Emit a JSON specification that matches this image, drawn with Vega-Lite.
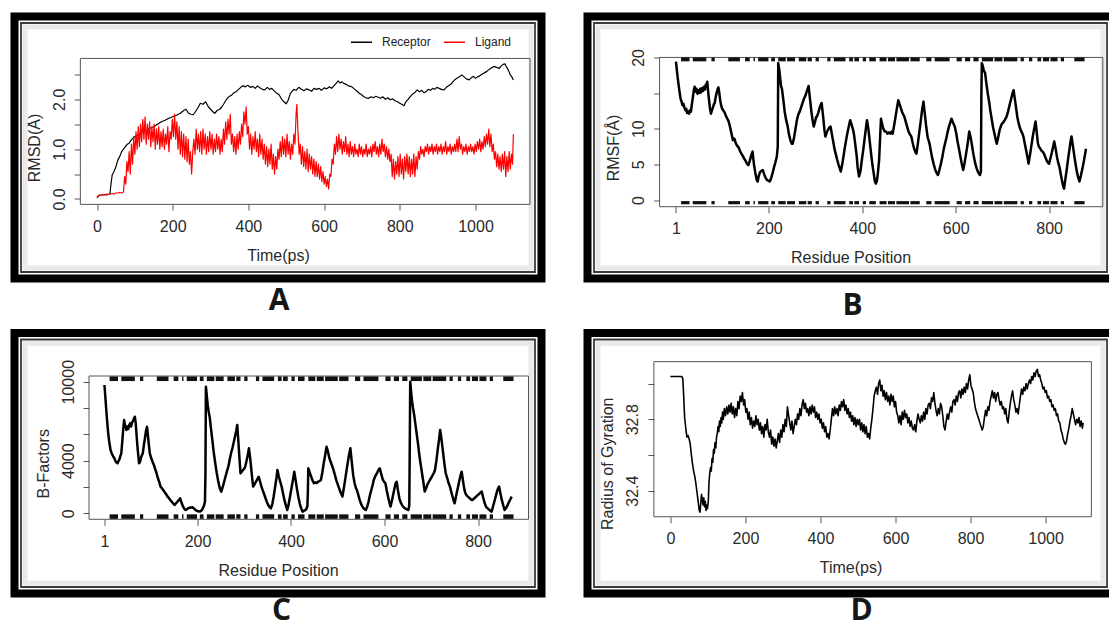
{
"$schema": "https://vega.github.io/schema/vega-lite/v6.json",
"background": "white",
"padding": {"left": 10.5, "top": 12.5, "right": -8.5, "bottom": -6},
"bounds": "flush",
"columns": 2,
"spacing": {"row": 54.5, "column": 46},
"datasets": {
"rmsd": [
{"x":0,"y":0.03,"s":"Receptor"},{"x":5,"y":0.07,"s":"Receptor"},{"x":10,"y":0.08,"s":"Receptor"},{"x":15,"y":0.08,"s":"Receptor"},{"x":20,"y":0.09,"s":"Receptor"},{"x":25,"y":0.08,"s":"Receptor"},{"x":30,"y":0.09,"s":"Receptor"},{"x":34,"y":0.1,"s":"Receptor"},{"x":37,"y":0.3,"s":"Receptor"},{"x":40,"y":0.48,"s":"Receptor"},{"x":45,"y":0.55,"s":"Receptor"},{"x":50,"y":0.65,"s":"Receptor"},{"x":55,"y":0.78,"s":"Receptor"},{"x":60,"y":0.85,"s":"Receptor"},{"x":65,"y":0.95,"s":"Receptor"},{"x":70,"y":1.0,"s":"Receptor"},{"x":75,"y":1.05,"s":"Receptor"},{"x":80,"y":1.1,"s":"Receptor"},{"x":85,"y":1.12,"s":"Receptor"},{"x":90,"y":1.18,"s":"Receptor"},{"x":95,"y":1.22,"s":"Receptor"},{"x":100,"y":1.25,"s":"Receptor"},{"x":110,"y":1.3,"s":"Receptor"},{"x":120,"y":1.35,"s":"Receptor"},{"x":130,"y":1.38,"s":"Receptor"},{"x":140,"y":1.42,"s":"Receptor"},{"x":150,"y":1.45,"s":"Receptor"},{"x":160,"y":1.5,"s":"Receptor"},{"x":170,"y":1.55,"s":"Receptor"},{"x":180,"y":1.58,"s":"Receptor"},{"x":190,"y":1.62,"s":"Receptor"},{"x":200,"y":1.65,"s":"Receptor"},{"x":210,"y":1.68,"s":"Receptor"},{"x":220,"y":1.72,"s":"Receptor"},{"x":230,"y":1.78,"s":"Receptor"},{"x":235,"y":1.8,"s":"Receptor"},{"x":242,"y":1.72,"s":"Receptor"},{"x":248,"y":1.7,"s":"Receptor"},{"x":254,"y":1.69,"s":"Receptor"},{"x":260,"y":1.75,"s":"Receptor"},{"x":266,"y":1.82,"s":"Receptor"},{"x":273,"y":1.92,"s":"Receptor"},{"x":280,"y":1.9,"s":"Receptor"},{"x":287,"y":1.95,"s":"Receptor"},{"x":294,"y":1.85,"s":"Receptor"},{"x":300,"y":1.8,"s":"Receptor"},{"x":306,"y":1.75,"s":"Receptor"},{"x":311,"y":1.72,"s":"Receptor"},{"x":318,"y":1.78,"s":"Receptor"},{"x":324,"y":1.8,"s":"Receptor"},{"x":330,"y":1.85,"s":"Receptor"},{"x":336,"y":1.92,"s":"Receptor"},{"x":342,"y":2.0,"s":"Receptor"},{"x":348,"y":2.05,"s":"Receptor"},{"x":355,"y":2.08,"s":"Receptor"},{"x":360,"y":2.12,"s":"Receptor"},{"x":367,"y":2.15,"s":"Receptor"},{"x":374,"y":2.2,"s":"Receptor"},{"x":380,"y":2.24,"s":"Receptor"},{"x":386,"y":2.27,"s":"Receptor"},{"x":392,"y":2.25,"s":"Receptor"},{"x":398,"y":2.28,"s":"Receptor"},{"x":405,"y":2.24,"s":"Receptor"},{"x":412,"y":2.26,"s":"Receptor"},{"x":418,"y":2.22,"s":"Receptor"},{"x":424,"y":2.27,"s":"Receptor"},{"x":430,"y":2.23,"s":"Receptor"},{"x":437,"y":2.2,"s":"Receptor"},{"x":443,"y":2.19,"s":"Receptor"},{"x":450,"y":2.24,"s":"Receptor"},{"x":456,"y":2.2,"s":"Receptor"},{"x":462,"y":2.22,"s":"Receptor"},{"x":468,"y":2.17,"s":"Receptor"},{"x":475,"y":2.12,"s":"Receptor"},{"x":481,"y":2.09,"s":"Receptor"},{"x":488,"y":2.0,"s":"Receptor"},{"x":494,"y":1.95,"s":"Receptor"},{"x":500,"y":1.91,"s":"Receptor"},{"x":505,"y":1.98,"s":"Receptor"},{"x":510,"y":2.1,"s":"Receptor"},{"x":514,"y":2.15,"s":"Receptor"},{"x":520,"y":2.2,"s":"Receptor"},{"x":526,"y":2.18,"s":"Receptor"},{"x":533,"y":2.24,"s":"Receptor"},{"x":540,"y":2.2,"s":"Receptor"},{"x":547,"y":2.17,"s":"Receptor"},{"x":553,"y":2.21,"s":"Receptor"},{"x":560,"y":2.19,"s":"Receptor"},{"x":567,"y":2.16,"s":"Receptor"},{"x":573,"y":2.22,"s":"Receptor"},{"x":580,"y":2.2,"s":"Receptor"},{"x":587,"y":2.22,"s":"Receptor"},{"x":593,"y":2.18,"s":"Receptor"},{"x":600,"y":2.23,"s":"Receptor"},{"x":607,"y":2.21,"s":"Receptor"},{"x":614,"y":2.25,"s":"Receptor"},{"x":620,"y":2.22,"s":"Receptor"},{"x":627,"y":2.28,"s":"Receptor"},{"x":633,"y":2.33,"s":"Receptor"},{"x":637,"y":2.37,"s":"Receptor"},{"x":642,"y":2.33,"s":"Receptor"},{"x":647,"y":2.35,"s":"Receptor"},{"x":652,"y":2.32,"s":"Receptor"},{"x":658,"y":2.3,"s":"Receptor"},{"x":664,"y":2.27,"s":"Receptor"},{"x":670,"y":2.26,"s":"Receptor"},{"x":675,"y":2.24,"s":"Receptor"},{"x":681,"y":2.2,"s":"Receptor"},{"x":687,"y":2.16,"s":"Receptor"},{"x":693,"y":2.12,"s":"Receptor"},{"x":699,"y":2.09,"s":"Receptor"},{"x":705,"y":2.05,"s":"Receptor"},{"x":711,"y":2.03,"s":"Receptor"},{"x":718,"y":2.02,"s":"Receptor"},{"x":724,"y":2.05,"s":"Receptor"},{"x":730,"y":2.03,"s":"Receptor"},{"x":737,"y":2.06,"s":"Receptor"},{"x":743,"y":2.04,"s":"Receptor"},{"x":749,"y":2.02,"s":"Receptor"},{"x":755,"y":2.05,"s":"Receptor"},{"x":762,"y":2.0,"s":"Receptor"},{"x":768,"y":2.03,"s":"Receptor"},{"x":775,"y":1.99,"s":"Receptor"},{"x":781,"y":2.01,"s":"Receptor"},{"x":787,"y":1.97,"s":"Receptor"},{"x":794,"y":1.95,"s":"Receptor"},{"x":800,"y":1.92,"s":"Receptor"},{"x":805,"y":1.9,"s":"Receptor"},{"x":811,"y":1.87,"s":"Receptor"},{"x":816,"y":1.95,"s":"Receptor"},{"x":822,"y":2.0,"s":"Receptor"},{"x":827,"y":2.05,"s":"Receptor"},{"x":833,"y":2.1,"s":"Receptor"},{"x":839,"y":2.13,"s":"Receptor"},{"x":846,"y":2.19,"s":"Receptor"},{"x":852,"y":2.15,"s":"Receptor"},{"x":858,"y":2.18,"s":"Receptor"},{"x":864,"y":2.13,"s":"Receptor"},{"x":869,"y":2.15,"s":"Receptor"},{"x":875,"y":2.2,"s":"Receptor"},{"x":881,"y":2.18,"s":"Receptor"},{"x":887,"y":2.22,"s":"Receptor"},{"x":892,"y":2.2,"s":"Receptor"},{"x":898,"y":2.24,"s":"Receptor"},{"x":904,"y":2.22,"s":"Receptor"},{"x":910,"y":2.2,"s":"Receptor"},{"x":917,"y":2.19,"s":"Receptor"},{"x":923,"y":2.24,"s":"Receptor"},{"x":929,"y":2.27,"s":"Receptor"},{"x":935,"y":2.3,"s":"Receptor"},{"x":940,"y":2.35,"s":"Receptor"},{"x":945,"y":2.39,"s":"Receptor"},{"x":951,"y":2.42,"s":"Receptor"},{"x":957,"y":2.45,"s":"Receptor"},{"x":964,"y":2.49,"s":"Receptor"},{"x":970,"y":2.45,"s":"Receptor"},{"x":976,"y":2.41,"s":"Receptor"},{"x":983,"y":2.39,"s":"Receptor"},{"x":989,"y":2.43,"s":"Receptor"},{"x":995,"y":2.46,"s":"Receptor"},{"x":1000,"y":2.42,"s":"Receptor"},{"x":1005,"y":2.45,"s":"Receptor"},{"x":1011,"y":2.47,"s":"Receptor"},{"x":1017,"y":2.5,"s":"Receptor"},{"x":1023,"y":2.53,"s":"Receptor"},{"x":1030,"y":2.56,"s":"Receptor"},{"x":1036,"y":2.6,"s":"Receptor"},{"x":1042,"y":2.63,"s":"Receptor"},{"x":1049,"y":2.66,"s":"Receptor"},{"x":1056,"y":2.64,"s":"Receptor"},{"x":1063,"y":2.62,"s":"Receptor"},{"x":1068,"y":2.67,"s":"Receptor"},{"x":1073,"y":2.7,"s":"Receptor"},{"x":1078,"y":2.71,"s":"Receptor"},{"x":1082,"y":2.65,"s":"Receptor"},{"x":1087,"y":2.58,"s":"Receptor"},{"x":1092,"y":2.49,"s":"Receptor"},{"x":1096,"y":2.45,"s":"Receptor"},{"x":1100,"y":2.39,"s":"Receptor"},
{"x":0,"y":0.02,"s":"Ligand"},{"x":5,"y":0.08,"s":"Ligand"},{"x":10,"y":0.07,"s":"Ligand"},{"x":15,"y":0.09,"s":"Ligand"},{"x":20,"y":0.08,"s":"Ligand"},{"x":25,"y":0.1,"s":"Ligand"},{"x":30,"y":0.09,"s":"Ligand"},{"x":35,"y":0.1,"s":"Ligand"},{"x":40,"y":0.11,"s":"Ligand"},{"x":45,"y":0.1,"s":"Ligand"},{"x":50,"y":0.12,"s":"Ligand"},{"x":55,"y":0.12,"s":"Ligand"},{"x":60,"y":0.13,"s":"Ligand"},{"x":65,"y":0.12,"s":"Ligand"},{"x":70,"y":0.14,"s":"Ligand"},{"x":73,"y":0.45,"s":"Ligand"},{"x":76,"y":0.3,"s":"Ligand"},{"x":79,"y":0.75,"s":"Ligand"},{"x":82,"y":0.55,"s":"Ligand"},{"x":85,"y":0.95,"s":"Ligand"},{"x":88,"y":0.5,"s":"Ligand"},{"x":91,"y":1.1,"s":"Ligand"},{"x":94,"y":0.7,"s":"Ligand"},{"x":97,"y":1.25,"s":"Ligand"},{"x":100,"y":0.9,"s":"Ligand"},{"x":103,"y":1.35,"s":"Ligand"},{"x":106,"y":1.0,"s":"Ligand"},{"x":109,"y":1.45,"s":"Ligand"},{"x":112,"y":1.05,"s":"Ligand"},{"x":115,"y":1.5,"s":"Ligand"},{"x":118,"y":1.15,"s":"Ligand"},{"x":121,"y":1.6,"s":"Ligand"},{"x":124,"y":1.2,"s":"Ligand"},{"x":127,"y":1.65,"s":"Ligand"},{"x":130,"y":1.1,"s":"Ligand"},{"x":133,"y":1.5,"s":"Ligand"},{"x":136,"y":1.2,"s":"Ligand"},{"x":139,"y":1.55,"s":"Ligand"},{"x":142,"y":1.05,"s":"Ligand"},{"x":145,"y":1.45,"s":"Ligand"},{"x":148,"y":1.15,"s":"Ligand"},{"x":151,"y":1.5,"s":"Ligand"},{"x":154,"y":1.0,"s":"Ligand"},{"x":157,"y":1.4,"s":"Ligand"},{"x":160,"y":1.1,"s":"Ligand"},{"x":163,"y":1.45,"s":"Ligand"},{"x":166,"y":1.0,"s":"Ligand"},{"x":169,"y":1.35,"s":"Ligand"},{"x":172,"y":1.05,"s":"Ligand"},{"x":175,"y":1.4,"s":"Ligand"},{"x":178,"y":1.0,"s":"Ligand"},{"x":181,"y":1.3,"s":"Ligand"},{"x":184,"y":1.1,"s":"Ligand"},{"x":187,"y":1.45,"s":"Ligand"},{"x":190,"y":0.95,"s":"Ligand"},{"x":193,"y":1.35,"s":"Ligand"},{"x":196,"y":1.2,"s":"Ligand"},{"x":199,"y":1.6,"s":"Ligand"},{"x":202,"y":1.25,"s":"Ligand"},{"x":205,"y":1.7,"s":"Ligand"},{"x":208,"y":1.2,"s":"Ligand"},{"x":211,"y":1.55,"s":"Ligand"},{"x":214,"y":1.0,"s":"Ligand"},{"x":217,"y":1.45,"s":"Ligand"},{"x":220,"y":0.9,"s":"Ligand"},{"x":223,"y":1.35,"s":"Ligand"},{"x":226,"y":0.85,"s":"Ligand"},{"x":229,"y":1.3,"s":"Ligand"},{"x":232,"y":0.8,"s":"Ligand"},{"x":235,"y":1.25,"s":"Ligand"},{"x":238,"y":0.75,"s":"Ligand"},{"x":241,"y":1.2,"s":"Ligand"},{"x":244,"y":0.7,"s":"Ligand"},{"x":247,"y":0.95,"s":"Ligand"},{"x":250,"y":0.5,"s":"Ligand"},{"x":253,"y":0.95,"s":"Ligand"},{"x":256,"y":1.2,"s":"Ligand"},{"x":259,"y":0.9,"s":"Ligand"},{"x":262,"y":1.4,"s":"Ligand"},{"x":265,"y":1.0,"s":"Ligand"},{"x":268,"y":1.3,"s":"Ligand"},{"x":271,"y":0.95,"s":"Ligand"},{"x":274,"y":1.35,"s":"Ligand"},{"x":277,"y":0.9,"s":"Ligand"},{"x":280,"y":1.4,"s":"Ligand"},{"x":283,"y":1.0,"s":"Ligand"},{"x":286,"y":1.3,"s":"Ligand"},{"x":289,"y":0.9,"s":"Ligand"},{"x":292,"y":1.25,"s":"Ligand"},{"x":295,"y":0.95,"s":"Ligand"},{"x":298,"y":1.35,"s":"Ligand"},{"x":301,"y":1.0,"s":"Ligand"},{"x":304,"y":1.3,"s":"Ligand"},{"x":307,"y":0.9,"s":"Ligand"},{"x":310,"y":1.2,"s":"Ligand"},{"x":313,"y":0.95,"s":"Ligand"},{"x":316,"y":1.3,"s":"Ligand"},{"x":319,"y":1.0,"s":"Ligand"},{"x":322,"y":1.25,"s":"Ligand"},{"x":325,"y":0.9,"s":"Ligand"},{"x":328,"y":1.2,"s":"Ligand"},{"x":331,"y":0.95,"s":"Ligand"},{"x":334,"y":1.4,"s":"Ligand"},{"x":337,"y":1.1,"s":"Ligand"},{"x":340,"y":1.55,"s":"Ligand"},{"x":343,"y":1.2,"s":"Ligand"},{"x":346,"y":1.6,"s":"Ligand"},{"x":349,"y":1.3,"s":"Ligand"},{"x":352,"y":1.7,"s":"Ligand"},{"x":355,"y":1.1,"s":"Ligand"},{"x":358,"y":1.3,"s":"Ligand"},{"x":361,"y":0.95,"s":"Ligand"},{"x":364,"y":1.25,"s":"Ligand"},{"x":367,"y":0.9,"s":"Ligand"},{"x":370,"y":1.3,"s":"Ligand"},{"x":373,"y":1.0,"s":"Ligand"},{"x":376,"y":1.35,"s":"Ligand"},{"x":379,"y":1.1,"s":"Ligand"},{"x":382,"y":1.5,"s":"Ligand"},{"x":385,"y":1.25,"s":"Ligand"},{"x":388,"y":1.75,"s":"Ligand"},{"x":391,"y":1.5,"s":"Ligand"},{"x":394,"y":1.85,"s":"Ligand"},{"x":397,"y":1.3,"s":"Ligand"},{"x":400,"y":1.45,"s":"Ligand"},{"x":403,"y":1.0,"s":"Ligand"},{"x":406,"y":1.3,"s":"Ligand"},{"x":409,"y":0.9,"s":"Ligand"},{"x":412,"y":1.25,"s":"Ligand"},{"x":415,"y":1.0,"s":"Ligand"},{"x":418,"y":1.35,"s":"Ligand"},{"x":421,"y":0.95,"s":"Ligand"},{"x":424,"y":1.2,"s":"Ligand"},{"x":427,"y":0.85,"s":"Ligand"},{"x":430,"y":1.3,"s":"Ligand"},{"x":433,"y":0.9,"s":"Ligand"},{"x":436,"y":1.2,"s":"Ligand"},{"x":439,"y":0.8,"s":"Ligand"},{"x":442,"y":1.1,"s":"Ligand"},{"x":445,"y":0.7,"s":"Ligand"},{"x":448,"y":1.05,"s":"Ligand"},{"x":451,"y":0.65,"s":"Ligand"},{"x":454,"y":1.0,"s":"Ligand"},{"x":457,"y":0.7,"s":"Ligand"},{"x":460,"y":1.1,"s":"Ligand"},{"x":463,"y":0.6,"s":"Ligand"},{"x":466,"y":0.9,"s":"Ligand"},{"x":469,"y":0.5,"s":"Ligand"},{"x":472,"y":0.85,"s":"Ligand"},{"x":475,"y":0.6,"s":"Ligand"},{"x":478,"y":1.0,"s":"Ligand"},{"x":481,"y":0.8,"s":"Ligand"},{"x":484,"y":1.15,"s":"Ligand"},{"x":487,"y":0.85,"s":"Ligand"},{"x":490,"y":1.25,"s":"Ligand"},{"x":493,"y":0.9,"s":"Ligand"},{"x":496,"y":1.2,"s":"Ligand"},{"x":499,"y":0.85,"s":"Ligand"},{"x":502,"y":1.3,"s":"Ligand"},{"x":505,"y":0.9,"s":"Ligand"},{"x":508,"y":1.15,"s":"Ligand"},{"x":511,"y":0.8,"s":"Ligand"},{"x":514,"y":1.1,"s":"Ligand"},{"x":517,"y":0.9,"s":"Ligand"},{"x":520,"y":1.3,"s":"Ligand"},{"x":523,"y":1.1,"s":"Ligand"},{"x":526,"y":1.7,"s":"Ligand"},{"x":528,"y":1.9,"s":"Ligand"},{"x":531,"y":1.35,"s":"Ligand"},{"x":534,"y":0.9,"s":"Ligand"},{"x":537,"y":1.1,"s":"Ligand"},{"x":540,"y":0.7,"s":"Ligand"},{"x":543,"y":1.05,"s":"Ligand"},{"x":546,"y":0.65,"s":"Ligand"},{"x":549,"y":0.95,"s":"Ligand"},{"x":552,"y":0.6,"s":"Ligand"},{"x":555,"y":1.0,"s":"Ligand"},{"x":558,"y":0.55,"s":"Ligand"},{"x":561,"y":0.9,"s":"Ligand"},{"x":564,"y":0.6,"s":"Ligand"},{"x":567,"y":0.85,"s":"Ligand"},{"x":570,"y":0.5,"s":"Ligand"},{"x":573,"y":0.8,"s":"Ligand"},{"x":576,"y":0.45,"s":"Ligand"},{"x":579,"y":0.75,"s":"Ligand"},{"x":582,"y":0.45,"s":"Ligand"},{"x":585,"y":0.7,"s":"Ligand"},{"x":588,"y":0.4,"s":"Ligand"},{"x":591,"y":0.65,"s":"Ligand"},{"x":594,"y":0.35,"s":"Ligand"},{"x":597,"y":0.55,"s":"Ligand"},{"x":600,"y":0.3,"s":"Ligand"},{"x":603,"y":0.45,"s":"Ligand"},{"x":606,"y":0.25,"s":"Ligand"},{"x":609,"y":0.4,"s":"Ligand"},{"x":612,"y":0.2,"s":"Ligand"},{"x":615,"y":0.5,"s":"Ligand"},{"x":618,"y":0.45,"s":"Ligand"},{"x":621,"y":0.8,"s":"Ligand"},{"x":624,"y":0.7,"s":"Ligand"},{"x":627,"y":1.1,"s":"Ligand"},{"x":630,"y":0.9,"s":"Ligand"},{"x":633,"y":1.25,"s":"Ligand"},{"x":636,"y":0.95,"s":"Ligand"},{"x":639,"y":1.3,"s":"Ligand"},{"x":642,"y":1.0,"s":"Ligand"},{"x":645,"y":1.2,"s":"Ligand"},{"x":648,"y":0.9,"s":"Ligand"},{"x":651,"y":1.15,"s":"Ligand"},{"x":654,"y":0.95,"s":"Ligand"},{"x":657,"y":1.25,"s":"Ligand"},{"x":660,"y":0.9,"s":"Ligand"},{"x":663,"y":1.1,"s":"Ligand"},{"x":666,"y":0.85,"s":"Ligand"},{"x":669,"y":1.15,"s":"Ligand"},{"x":672,"y":0.9,"s":"Ligand"},{"x":675,"y":1.05,"s":"Ligand"},{"x":678,"y":0.85,"s":"Ligand"},{"x":681,"y":1.1,"s":"Ligand"},{"x":684,"y":0.9,"s":"Ligand"},{"x":687,"y":1.0,"s":"Ligand"},{"x":690,"y":0.85,"s":"Ligand"},{"x":693,"y":1.1,"s":"Ligand"},{"x":696,"y":0.9,"s":"Ligand"},{"x":699,"y":1.05,"s":"Ligand"},{"x":702,"y":0.85,"s":"Ligand"},{"x":705,"y":1.0,"s":"Ligand"},{"x":708,"y":0.9,"s":"Ligand"},{"x":711,"y":1.1,"s":"Ligand"},{"x":714,"y":0.85,"s":"Ligand"},{"x":717,"y":1.0,"s":"Ligand"},{"x":720,"y":0.9,"s":"Ligand"},{"x":723,"y":1.05,"s":"Ligand"},{"x":726,"y":0.85,"s":"Ligand"},{"x":729,"y":1.1,"s":"Ligand"},{"x":732,"y":0.95,"s":"Ligand"},{"x":735,"y":1.15,"s":"Ligand"},{"x":738,"y":0.9,"s":"Ligand"},{"x":741,"y":1.05,"s":"Ligand"},{"x":744,"y":0.85,"s":"Ligand"},{"x":747,"y":1.1,"s":"Ligand"},{"x":750,"y":0.9,"s":"Ligand"},{"x":753,"y":1.2,"s":"Ligand"},{"x":756,"y":0.95,"s":"Ligand"},{"x":759,"y":1.1,"s":"Ligand"},{"x":762,"y":0.85,"s":"Ligand"},{"x":765,"y":1.05,"s":"Ligand"},{"x":768,"y":0.8,"s":"Ligand"},{"x":771,"y":1.0,"s":"Ligand"},{"x":774,"y":0.75,"s":"Ligand"},{"x":777,"y":0.9,"s":"Ligand"},{"x":780,"y":0.45,"s":"Ligand"},{"x":783,"y":0.8,"s":"Ligand"},{"x":786,"y":0.4,"s":"Ligand"},{"x":789,"y":0.75,"s":"Ligand"},{"x":792,"y":0.5,"s":"Ligand"},{"x":795,"y":0.85,"s":"Ligand"},{"x":798,"y":0.45,"s":"Ligand"},{"x":801,"y":0.9,"s":"Ligand"},{"x":804,"y":0.5,"s":"Ligand"},{"x":807,"y":0.8,"s":"Ligand"},{"x":810,"y":0.4,"s":"Ligand"},{"x":813,"y":0.85,"s":"Ligand"},{"x":816,"y":0.55,"s":"Ligand"},{"x":819,"y":0.9,"s":"Ligand"},{"x":822,"y":0.5,"s":"Ligand"},{"x":825,"y":0.85,"s":"Ligand"},{"x":828,"y":0.45,"s":"Ligand"},{"x":831,"y":0.8,"s":"Ligand"},{"x":834,"y":0.5,"s":"Ligand"},{"x":837,"y":0.9,"s":"Ligand"},{"x":840,"y":0.45,"s":"Ligand"},{"x":843,"y":0.85,"s":"Ligand"},{"x":846,"y":0.6,"s":"Ligand"},{"x":849,"y":0.95,"s":"Ligand"},{"x":852,"y":0.8,"s":"Ligand"},{"x":855,"y":1.05,"s":"Ligand"},{"x":858,"y":0.9,"s":"Ligand"},{"x":861,"y":1.0,"s":"Ligand"},{"x":864,"y":0.85,"s":"Ligand"},{"x":867,"y":1.05,"s":"Ligand"},{"x":870,"y":0.95,"s":"Ligand"},{"x":873,"y":1.1,"s":"Ligand"},{"x":876,"y":0.9,"s":"Ligand"},{"x":879,"y":1.05,"s":"Ligand"},{"x":882,"y":0.95,"s":"Ligand"},{"x":885,"y":1.1,"s":"Ligand"},{"x":888,"y":0.9,"s":"Ligand"},{"x":891,"y":1.05,"s":"Ligand"},{"x":894,"y":0.95,"s":"Ligand"},{"x":897,"y":1.1,"s":"Ligand"},{"x":900,"y":0.9,"s":"Ligand"},{"x":903,"y":1.05,"s":"Ligand"},{"x":906,"y":0.95,"s":"Ligand"},{"x":909,"y":1.1,"s":"Ligand"},{"x":912,"y":0.9,"s":"Ligand"},{"x":915,"y":1.05,"s":"Ligand"},{"x":918,"y":0.95,"s":"Ligand"},{"x":921,"y":1.15,"s":"Ligand"},{"x":924,"y":0.9,"s":"Ligand"},{"x":927,"y":1.05,"s":"Ligand"},{"x":930,"y":0.95,"s":"Ligand"},{"x":933,"y":1.1,"s":"Ligand"},{"x":936,"y":0.9,"s":"Ligand"},{"x":939,"y":1.05,"s":"Ligand"},{"x":942,"y":0.95,"s":"Ligand"},{"x":945,"y":1.1,"s":"Ligand"},{"x":948,"y":0.95,"s":"Ligand"},{"x":951,"y":1.2,"s":"Ligand"},{"x":954,"y":0.95,"s":"Ligand"},{"x":957,"y":1.25,"s":"Ligand"},{"x":960,"y":1.0,"s":"Ligand"},{"x":963,"y":1.1,"s":"Ligand"},{"x":966,"y":0.9,"s":"Ligand"},{"x":969,"y":1.05,"s":"Ligand"},{"x":972,"y":0.95,"s":"Ligand"},{"x":975,"y":1.1,"s":"Ligand"},{"x":978,"y":0.9,"s":"Ligand"},{"x":981,"y":1.05,"s":"Ligand"},{"x":984,"y":0.95,"s":"Ligand"},{"x":987,"y":1.1,"s":"Ligand"},{"x":990,"y":0.95,"s":"Ligand"},{"x":993,"y":1.05,"s":"Ligand"},{"x":996,"y":0.9,"s":"Ligand"},{"x":999,"y":1.1,"s":"Ligand"},{"x":1002,"y":0.95,"s":"Ligand"},{"x":1005,"y":1.15,"s":"Ligand"},{"x":1008,"y":1.0,"s":"Ligand"},{"x":1011,"y":1.2,"s":"Ligand"},{"x":1014,"y":0.95,"s":"Ligand"},{"x":1017,"y":1.15,"s":"Ligand"},{"x":1020,"y":1.0,"s":"Ligand"},{"x":1023,"y":1.25,"s":"Ligand"},{"x":1026,"y":1.05,"s":"Ligand"},{"x":1029,"y":1.3,"s":"Ligand"},{"x":1032,"y":1.1,"s":"Ligand"},{"x":1035,"y":1.4,"s":"Ligand"},{"x":1038,"y":1.05,"s":"Ligand"},{"x":1041,"y":1.3,"s":"Ligand"},{"x":1044,"y":0.95,"s":"Ligand"},{"x":1047,"y":1.1,"s":"Ligand"},{"x":1050,"y":0.8,"s":"Ligand"},{"x":1053,"y":0.95,"s":"Ligand"},{"x":1056,"y":0.65,"s":"Ligand"},{"x":1059,"y":0.9,"s":"Ligand"},{"x":1062,"y":0.6,"s":"Ligand"},{"x":1065,"y":0.85,"s":"Ligand"},{"x":1068,"y":0.55,"s":"Ligand"},{"x":1071,"y":0.9,"s":"Ligand"},{"x":1074,"y":0.6,"s":"Ligand"},{"x":1077,"y":0.95,"s":"Ligand"},{"x":1080,"y":0.45,"s":"Ligand"},{"x":1083,"y":0.85,"s":"Ligand"},{"x":1086,"y":0.55,"s":"Ligand"},{"x":1089,"y":0.95,"s":"Ligand"},{"x":1092,"y":0.6,"s":"Ligand"},{"x":1095,"y":0.9,"s":"Ligand"},{"x":1098,"y":0.7,"s":"Ligand"},{"x":1100,"y":1.3,"s":"Ligand"}
],
"rmsf": [
{"x":1,"y":19.4},{"x":3,"y":18.2},{"x":5,"y":17.0},{"x":7,"y":16.0},{"x":9,"y":15.0},{"x":11,"y":14.2},{"x":13,"y":13.8},{"x":15,"y":13.3},{"x":17,"y":13.5},{"x":19,"y":13.0},{"x":21,"y":12.6},{"x":23,"y":12.8},{"x":25,"y":12.2},{"x":27,"y":12.4},{"x":29,"y":12.1},{"x":31,"y":12.6},{"x":33,"y":12.4},{"x":35,"y":13.4},{"x":37,"y":14.3},{"x":39,"y":15.3},{"x":41,"y":15.9},{"x":43,"y":15.2},{"x":45,"y":15.6},{"x":47,"y":14.9},{"x":49,"y":15.4},{"x":51,"y":15.0},{"x":53,"y":15.6},{"x":55,"y":15.1},{"x":57,"y":15.7},{"x":59,"y":15.3},{"x":61,"y":15.9},{"x":63,"y":15.5},{"x":65,"y":16.2},{"x":67,"y":16.0},{"x":68,"y":16.6},{"x":70,"y":15.2},{"x":72,"y":13.9},{"x":74,"y":12.8},{"x":76,"y":12.1},{"x":78,"y":12.6},{"x":80,"y":12.9},{"x":82,"y":13.4},{"x":84,"y":13.6},{"x":86,"y":14.4},{"x":88,"y":15.0},{"x":90,"y":15.5},{"x":92,"y":15.8},{"x":94,"y":14.9},{"x":96,"y":13.9},{"x":98,"y":13.2},{"x":100,"y":12.8},{"x":102,"y":12.6},{"x":105,"y":12.3},{"x":108,"y":11.8},{"x":111,"y":11.4},{"x":114,"y":11.0},{"x":117,"y":10.2},{"x":120,"y":9.3},{"x":123,"y":8.4},{"x":126,"y":8.6},{"x":129,"y":8.0},{"x":132,"y":7.6},{"x":135,"y":7.4},{"x":138,"y":6.9},{"x":141,"y":6.5},{"x":144,"y":6.2},{"x":147,"y":5.8},{"x":150,"y":5.5},{"x":153,"y":5.1},{"x":156,"y":4.9},{"x":159,"y":5.5},{"x":162,"y":6.2},{"x":165,"y":6.8},{"x":168,"y":5.0},{"x":171,"y":3.8},{"x":174,"y":2.8},{"x":176,"y":2.6},{"x":178,"y":3.3},{"x":181,"y":3.9},{"x":184,"y":4.1},{"x":187,"y":4.2},{"x":190,"y":3.6},{"x":193,"y":3.1},{"x":196,"y":2.8},{"x":199,"y":2.7},{"x":202,"y":2.6},{"x":205,"y":3.1},{"x":208,"y":3.8},{"x":211,"y":4.6},{"x":214,"y":5.3},{"x":217,"y":6.1},{"x":219,"y":7.5},{"x":220,"y":19.2},{"x":222,"y":18.4},{"x":224,"y":17.2},{"x":226,"y":16.0},{"x":228,"y":15.6},{"x":231,"y":14.0},{"x":234,"y":12.3},{"x":237,"y":11.2},{"x":240,"y":10.4},{"x":243,"y":9.2},{"x":246,"y":8.4},{"x":249,"y":7.9},{"x":251,"y":7.9},{"x":254,"y":8.8},{"x":257,"y":10.0},{"x":260,"y":11.2},{"x":263,"y":12.0},{"x":266,"y":12.4},{"x":269,"y":13.0},{"x":272,"y":13.6},{"x":275,"y":14.2},{"x":278,"y":14.6},{"x":281,"y":15.2},{"x":284,"y":15.8},{"x":285,"y":16.0},{"x":288,"y":14.2},{"x":291,"y":12.4},{"x":294,"y":11.0},{"x":296,"y":10.3},{"x":299,"y":11.0},{"x":301,"y":11.6},{"x":303,"y":11.7},{"x":306,"y":12.3},{"x":309,"y":13.0},{"x":312,"y":13.5},{"x":313,"y":13.6},{"x":316,"y":11.8},{"x":319,"y":9.8},{"x":321,"y":8.9},{"x":324,"y":9.5},{"x":327,"y":9.9},{"x":330,"y":10.2},{"x":332,"y":10.3},{"x":335,"y":9.2},{"x":338,"y":8.1},{"x":341,"y":7.0},{"x":343,"y":6.5},{"x":346,"y":5.7},{"x":349,"y":5.0},{"x":352,"y":4.4},{"x":354,"y":4.0},{"x":357,"y":5.0},{"x":360,"y":6.2},{"x":362,"y":7.1},{"x":364,"y":7.9},{"x":367,"y":9.0},{"x":370,"y":10.0},{"x":372,"y":10.6},{"x":374,"y":11.2},{"x":377,"y":10.6},{"x":380,"y":9.9},{"x":382,"y":9.3},{"x":385,"y":7.8},{"x":388,"y":6.2},{"x":390,"y":4.6},{"x":393,"y":3.3},{"x":396,"y":4.0},{"x":399,"y":5.6},{"x":402,"y":7.0},{"x":405,"y":8.6},{"x":408,"y":10.2},{"x":410,"y":11.2},{"x":413,"y":10.0},{"x":416,"y":8.2},{"x":419,"y":6.4},{"x":422,"y":4.8},{"x":425,"y":3.5},{"x":427,"y":2.6},{"x":429,"y":2.3},{"x":431,"y":2.6},{"x":433,"y":3.5},{"x":436,"y":5.6},{"x":438,"y":8.5},{"x":440,"y":11.4},{"x":442,"y":10.8},{"x":444,"y":10.2},{"x":446,"y":9.9},{"x":448,"y":9.6},{"x":451,"y":9.6},{"x":454,"y":9.3},{"x":457,"y":9.5},{"x":460,"y":9.3},{"x":463,"y":9.6},{"x":465,"y":9.3},{"x":468,"y":10.4},{"x":471,"y":11.6},{"x":474,"y":12.8},{"x":477,"y":14.0},{"x":480,"y":13.4},{"x":483,"y":12.8},{"x":486,"y":12.2},{"x":490,"y":11.7},{"x":493,"y":11.0},{"x":496,"y":10.3},{"x":499,"y":9.6},{"x":502,"y":9.2},{"x":505,"y":8.9},{"x":508,"y":8.0},{"x":511,"y":7.2},{"x":514,"y":6.7},{"x":516,"y":6.5},{"x":519,"y":7.9},{"x":522,"y":9.5},{"x":525,"y":11.0},{"x":528,"y":12.6},{"x":531,"y":13.8},{"x":534,"y":12.0},{"x":537,"y":10.2},{"x":540,"y":8.8},{"x":544,"y":7.9},{"x":547,"y":6.8},{"x":550,"y":5.8},{"x":553,"y":5.0},{"x":556,"y":4.3},{"x":559,"y":3.8},{"x":562,"y":3.5},{"x":565,"y":4.2},{"x":568,"y":5.0},{"x":571,"y":5.9},{"x":574,"y":7.0},{"x":577,"y":7.9},{"x":580,"y":8.7},{"x":583,"y":9.6},{"x":586,"y":10.4},{"x":589,"y":11.0},{"x":591,"y":11.4},{"x":594,"y":10.9},{"x":596,"y":10.6},{"x":598,"y":10.3},{"x":601,"y":9.4},{"x":604,"y":8.2},{"x":607,"y":7.2},{"x":610,"y":6.1},{"x":613,"y":5.1},{"x":616,"y":4.2},{"x":619,"y":5.2},{"x":622,"y":6.4},{"x":625,"y":7.6},{"x":629,"y":9.6},{"x":632,"y":8.8},{"x":635,"y":7.6},{"x":638,"y":6.4},{"x":642,"y":5.1},{"x":645,"y":4.4},{"x":648,"y":3.9},{"x":652,"y":3.5},{"x":654,"y":4.0},{"x":655,"y":15.0},{"x":656,"y":19.2},{"x":658,"y":18.8},{"x":660,"y":18.2},{"x":663,"y":17.8},{"x":666,"y":16.2},{"x":669,"y":14.8},{"x":672,"y":13.6},{"x":674,"y":12.6},{"x":677,"y":11.4},{"x":680,"y":10.2},{"x":683,"y":9.3},{"x":686,"y":8.4},{"x":688,"y":7.9},{"x":691,"y":8.8},{"x":694,"y":9.8},{"x":697,"y":10.4},{"x":699,"y":10.7},{"x":702,"y":10.9},{"x":705,"y":11.2},{"x":709,"y":11.7},{"x":712,"y":12.4},{"x":715,"y":13.2},{"x":718,"y":14.0},{"x":721,"y":14.8},{"x":724,"y":15.4},{"x":727,"y":14.0},{"x":730,"y":12.6},{"x":732,"y":11.6},{"x":734,"y":11.0},{"x":737,"y":10.2},{"x":740,"y":9.7},{"x":743,"y":9.3},{"x":745,"y":8.9},{"x":748,"y":7.9},{"x":751,"y":6.9},{"x":754,"y":5.9},{"x":756,"y":5.1},{"x":759,"y":6.3},{"x":762,"y":7.6},{"x":765,"y":8.9},{"x":768,"y":10.0},{"x":771,"y":11.0},{"x":774,"y":9.2},{"x":776,"y":8.0},{"x":778,"y":7.5},{"x":781,"y":7.2},{"x":784,"y":6.9},{"x":787,"y":6.7},{"x":789,"y":6.5},{"x":792,"y":6.0},{"x":795,"y":5.5},{"x":798,"y":5.2},{"x":800,"y":5.1},{"x":803,"y":5.9},{"x":806,"y":6.7},{"x":809,"y":7.6},{"x":811,"y":8.2},{"x":814,"y":7.2},{"x":817,"y":6.0},{"x":820,"y":5.1},{"x":822,"y":4.7},{"x":825,"y":3.6},{"x":828,"y":2.6},{"x":830,"y":2.0},{"x":832,"y":1.6},{"x":835,"y":3.0},{"x":838,"y":4.4},{"x":841,"y":5.9},{"x":844,"y":7.3},{"x":846,"y":8.2},{"x":848,"y":8.9},{"x":851,"y":7.6},{"x":854,"y":6.2},{"x":857,"y":4.9},{"x":860,"y":3.8},{"x":863,"y":3.0},{"x":865,"y":2.6},{"x":868,"y":3.4},{"x":871,"y":4.3},{"x":874,"y":5.3},{"x":877,"y":6.4},{"x":879,"y":7.2}
],
"bfac": [
{"x":1,"y":9750},{"x":3,"y":8800},{"x":5,"y":7800},{"x":7,"y":6900},{"x":9,"y":6100},{"x":11,"y":5500},{"x":14,"y":4810},{"x":16,"y":4600},{"x":18,"y":4450},{"x":20,"y":4300},{"x":22,"y":4200},{"x":24,"y":4000},{"x":26,"y":3900},{"x":29,"y":3800},{"x":31,"y":3950},{"x":33,"y":4100},{"x":35,"y":4350},{"x":37,"y":4560},{"x":39,"y":5400},{"x":41,"y":6300},{"x":43,"y":7090},{"x":45,"y":6700},{"x":47,"y":6500},{"x":48,"y":6330},{"x":50,"y":6600},{"x":52,"y":6400},{"x":54,"y":6700},{"x":56,"y":6840},{"x":58,"y":6600},{"x":60,"y":6900},{"x":62,"y":7000},{"x":64,"y":7200},{"x":66,"y":7340},{"x":68,"y":6800},{"x":70,"y":5800},{"x":72,"y":4900},{"x":74,"y":4200},{"x":75,"y":3800},{"x":77,"y":3900},{"x":79,"y":4200},{"x":81,"y":4400},{"x":83,"y":4560},{"x":85,"y":5100},{"x":88,"y":5800},{"x":90,"y":6300},{"x":92,"y":6580},{"x":94,"y":5900},{"x":96,"y":5200},{"x":98,"y":4560},{"x":101,"y":4200},{"x":104,"y":3900},{"x":107,"y":3650},{"x":109,"y":3420},{"x":112,"y":3100},{"x":115,"y":2700},{"x":118,"y":2400},{"x":121,"y":2030},{"x":124,"y":1900},{"x":127,"y":1750},{"x":130,"y":1600},{"x":133,"y":1450},{"x":136,"y":1270},{"x":139,"y":1150},{"x":142,"y":1000},{"x":145,"y":880},{"x":148,"y":750},{"x":151,"y":630},{"x":154,"y":760},{"x":157,"y":880},{"x":160,"y":1000},{"x":163,"y":1140},{"x":166,"y":800},{"x":169,"y":520},{"x":172,"y":330},{"x":174,"y":250},{"x":177,"y":300},{"x":180,"y":380},{"x":183,"y":420},{"x":186,"y":440},{"x":189,"y":460},{"x":192,"y":380},{"x":195,"y":280},{"x":198,"y":200},{"x":201,"y":150},{"x":205,"y":130},{"x":208,"y":200},{"x":211,"y":350},{"x":214,"y":600},{"x":216,"y":890},{"x":217,"y":3000},{"x":218,"y":9620},{"x":220,"y":8900},{"x":222,"y":8200},{"x":224,"y":7700},{"x":226,"y":7340},{"x":229,"y":6400},{"x":232,"y":5500},{"x":235,"y":4560},{"x":238,"y":3800},{"x":241,"y":3100},{"x":244,"y":2500},{"x":247,"y":2000},{"x":249,"y":1800},{"x":251,"y":1650},{"x":254,"y":2000},{"x":257,"y":2400},{"x":260,"y":2800},{"x":263,"y":3200},{"x":266,"y":3540},{"x":269,"y":4100},{"x":272,"y":4600},{"x":275,"y":5000},{"x":277,"y":5320},{"x":280,"y":5800},{"x":283,"y":6300},{"x":285,"y":6710},{"x":287,"y":5700},{"x":289,"y":4600},{"x":292,"y":3040},{"x":295,"y":3200},{"x":298,"y":3300},{"x":300,"y":3400},{"x":302,"y":3540},{"x":305,"y":4000},{"x":308,"y":4500},{"x":310,"y":4940},{"x":313,"y":4100},{"x":316,"y":3000},{"x":319,"y":2030},{"x":322,"y":2200},{"x":325,"y":2400},{"x":328,"y":2600},{"x":331,"y":2780},{"x":334,"y":2400},{"x":337,"y":2000},{"x":340,"y":1700},{"x":342,"y":1520},{"x":345,"y":1200},{"x":348,"y":900},{"x":351,"y":650},{"x":354,"y":480},{"x":357,"y":380},{"x":360,"y":700},{"x":363,"y":1300},{"x":366,"y":2000},{"x":369,"y":2700},{"x":371,"y":3290},{"x":374,"y":2800},{"x":377,"y":2400},{"x":380,"y":2030},{"x":383,"y":1500},{"x":386,"y":1000},{"x":389,"y":600},{"x":392,"y":250},{"x":395,"y":700},{"x":398,"y":1300},{"x":401,"y":1900},{"x":404,"y":2500},{"x":407,"y":3160},{"x":410,"y":2500},{"x":413,"y":1800},{"x":416,"y":1200},{"x":419,"y":700},{"x":422,"y":350},{"x":425,"y":130},{"x":428,"y":200},{"x":431,"y":250},{"x":433,"y":350},{"x":435,"y":510},{"x":436,"y":1500},{"x":437,"y":3420},{"x":440,"y":3100},{"x":443,"y":2800},{"x":446,"y":2500},{"x":449,"y":2280},{"x":452,"y":2350},{"x":455,"y":2300},{"x":458,"y":2400},{"x":461,"y":2450},{"x":464,"y":2530},{"x":467,"y":3100},{"x":470,"y":3800},{"x":473,"y":4400},{"x":476,"y":5060},{"x":479,"y":4700},{"x":482,"y":4200},{"x":485,"y":3900},{"x":488,"y":3600},{"x":491,"y":3290},{"x":494,"y":2900},{"x":497,"y":2500},{"x":500,"y":2200},{"x":503,"y":1900},{"x":506,"y":1600},{"x":510,"y":1270},{"x":513,"y":1900},{"x":516,"y":2600},{"x":519,"y":3300},{"x":522,"y":4000},{"x":525,"y":4600},{"x":527,"y":4940},{"x":530,"y":3900},{"x":533,"y":2900},{"x":536,"y":2300},{"x":539,"y":1900},{"x":541,"y":1770},{"x":544,"y":1400},{"x":547,"y":1000},{"x":550,"y":700},{"x":553,"y":500},{"x":556,"y":350},{"x":560,"y":250},{"x":563,"y":500},{"x":566,"y":900},{"x":569,"y":1400},{"x":572,"y":1800},{"x":575,"y":2200},{"x":577,"y":2530},{"x":580,"y":2800},{"x":583,"y":3000},{"x":586,"y":3200},{"x":588,"y":3350},{"x":590,"y":3420},{"x":593,"y":3000},{"x":596,"y":2600},{"x":599,"y":2400},{"x":602,"y":2280},{"x":605,"y":1700},{"x":608,"y":1200},{"x":611,"y":750},{"x":613,"y":510},{"x":616,"y":1000},{"x":619,"y":1500},{"x":622,"y":2000},{"x":624,"y":2300},{"x":626,"y":2400},{"x":629,"y":1700},{"x":632,"y":1100},{"x":635,"y":800},{"x":638,"y":600},{"x":640,"y":510},{"x":643,"y":400},{"x":646,"y":330},{"x":649,"y":280},{"x":651,"y":250},{"x":653,"y":600},{"x":654,"y":5000},{"x":655,"y":10000},{"x":657,"y":9200},{"x":659,"y":8500},{"x":661,"y":8000},{"x":663,"y":7590},{"x":666,"y":6800},{"x":669,"y":6000},{"x":672,"y":5200},{"x":674,"y":4560},{"x":677,"y":3800},{"x":680,"y":3100},{"x":683,"y":2400},{"x":686,"y":1650},{"x":689,"y":1900},{"x":692,"y":2200},{"x":695,"y":2400},{"x":697,"y":2530},{"x":700,"y":2700},{"x":703,"y":2900},{"x":706,"y":3100},{"x":708,"y":3290},{"x":711,"y":4000},{"x":714,"y":4900},{"x":717,"y":5700},{"x":719,"y":6330},{"x":722,"y":5600},{"x":725,"y":4700},{"x":728,"y":3800},{"x":731,"y":3040},{"x":734,"y":2700},{"x":737,"y":2300},{"x":740,"y":2030},{"x":743,"y":1600},{"x":746,"y":1200},{"x":748,"y":950},{"x":750,"y":760},{"x":753,"y":1300},{"x":756,"y":1800},{"x":759,"y":2300},{"x":762,"y":2800},{"x":765,"y":3160},{"x":767,"y":2700},{"x":769,"y":2200},{"x":771,"y":1800},{"x":773,"y":1520},{"x":776,"y":1350},{"x":779,"y":1250},{"x":782,"y":1150},{"x":785,"y":1050},{"x":788,"y":1010},{"x":791,"y":1100},{"x":794,"y":1200},{"x":797,"y":1300},{"x":800,"y":1400},{"x":803,"y":1500},{"x":806,"y":1600},{"x":808,"y":1650},{"x":811,"y":1200},{"x":814,"y":800},{"x":817,"y":510},{"x":820,"y":400},{"x":823,"y":300},{"x":826,"y":200},{"x":829,"y":130},{"x":832,"y":500},{"x":835,"y":900},{"x":838,"y":1300},{"x":841,"y":1700},{"x":843,"y":1900},{"x":845,"y":2030},{"x":848,"y":1500},{"x":851,"y":1000},{"x":854,"y":600},{"x":857,"y":250},{"x":860,"y":400},{"x":863,"y":600},{"x":866,"y":850},{"x":869,"y":1050},{"x":872,"y":1270}
],
"rg": [
{"x":0,"y":33.04},{"x":5,"y":33.04},{"x":10,"y":33.04},{"x":15,"y":33.04},{"x":20,"y":33.04},{"x":25,"y":33.04},{"x":30,"y":33.04},{"x":33,"y":33.03},{"x":35,"y":32.95},{"x":38,"y":32.81},{"x":41,"y":32.75},{"x":44,"y":32.7},{"x":47,"y":32.71},{"x":50,"y":32.69},{"x":53,"y":32.66},{"x":56,"y":32.6},{"x":59,"y":32.55},{"x":62,"y":32.51},{"x":65,"y":32.48},{"x":68,"y":32.44},{"x":71,"y":32.39},{"x":74,"y":32.34},{"x":77,"y":32.29},{"x":79,"y":32.28},{"x":81,"y":32.33},{"x":83,"y":32.38},{"x":85,"y":32.35},{"x":87,"y":32.32},{"x":89,"y":32.36},{"x":91,"y":32.31},{"x":93,"y":32.34},{"x":95,"y":32.29},{"x":97,"y":32.32},{"x":99,"y":32.3},{"x":101,"y":32.34},{"x":103,"y":32.45},{"x":105,"y":32.5},{"x":107,"y":32.53},{"x":109,"y":32.51},{"x":111,"y":32.58},{"x":113,"y":32.56},{"x":115,"y":32.63},{"x":117,"y":32.61},{"x":119,"y":32.67},{"x":121,"y":32.64},{"x":123,"y":32.7},{"x":125,"y":32.72},{"x":127,"y":32.76},{"x":129,"y":32.73},{"x":131,"y":32.79},{"x":133,"y":32.76},{"x":135,"y":32.81},{"x":137,"y":32.78},{"x":139,"y":32.84},{"x":141,"y":32.8},{"x":144,"y":32.86},{"x":147,"y":32.82},{"x":150,"y":32.87},{"x":153,"y":32.83},{"x":156,"y":32.88},{"x":159,"y":32.84},{"x":162,"y":32.89},{"x":165,"y":32.83},{"x":168,"y":32.87},{"x":171,"y":32.81},{"x":174,"y":32.86},{"x":177,"y":32.82},{"x":180,"y":32.9},{"x":183,"y":32.86},{"x":186,"y":32.93},{"x":189,"y":32.9},{"x":192,"y":32.95},{"x":195,"y":32.88},{"x":198,"y":32.91},{"x":201,"y":32.84},{"x":204,"y":32.86},{"x":207,"y":32.8},{"x":210,"y":32.84},{"x":213,"y":32.77},{"x":216,"y":32.81},{"x":219,"y":32.75},{"x":222,"y":32.79},{"x":225,"y":32.76},{"x":228,"y":32.82},{"x":231,"y":32.77},{"x":234,"y":32.8},{"x":237,"y":32.74},{"x":240,"y":32.78},{"x":243,"y":32.72},{"x":246,"y":32.76},{"x":249,"y":32.7},{"x":252,"y":32.77},{"x":255,"y":32.74},{"x":258,"y":32.8},{"x":261,"y":32.73},{"x":264,"y":32.7},{"x":267,"y":32.74},{"x":270,"y":32.66},{"x":273,"y":32.7},{"x":276,"y":32.65},{"x":279,"y":32.69},{"x":282,"y":32.64},{"x":285,"y":32.68},{"x":288,"y":32.72},{"x":291,"y":32.67},{"x":294,"y":32.74},{"x":297,"y":32.7},{"x":300,"y":32.77},{"x":303,"y":32.73},{"x":306,"y":32.8},{"x":309,"y":32.76},{"x":312,"y":32.87},{"x":315,"y":32.82},{"x":318,"y":32.78},{"x":321,"y":32.74},{"x":324,"y":32.79},{"x":327,"y":32.72},{"x":330,"y":32.76},{"x":333,"y":32.8},{"x":336,"y":32.77},{"x":339,"y":32.83},{"x":342,"y":32.8},{"x":345,"y":32.86},{"x":348,"y":32.82},{"x":351,"y":32.88},{"x":354,"y":32.91},{"x":357,"y":32.86},{"x":360,"y":32.89},{"x":363,"y":32.84},{"x":366,"y":32.86},{"x":369,"y":32.82},{"x":372,"y":32.87},{"x":375,"y":32.83},{"x":378,"y":32.88},{"x":381,"y":32.84},{"x":384,"y":32.87},{"x":387,"y":32.81},{"x":390,"y":32.84},{"x":393,"y":32.8},{"x":396,"y":32.83},{"x":399,"y":32.78},{"x":402,"y":32.8},{"x":405,"y":32.75},{"x":408,"y":32.78},{"x":411,"y":32.73},{"x":414,"y":32.76},{"x":417,"y":32.7},{"x":420,"y":32.72},{"x":423,"y":32.69},{"x":426,"y":32.74},{"x":429,"y":32.8},{"x":432,"y":32.86},{"x":435,"y":32.82},{"x":438,"y":32.87},{"x":441,"y":32.83},{"x":444,"y":32.86},{"x":447,"y":32.82},{"x":450,"y":32.88},{"x":453,"y":32.85},{"x":456,"y":32.9},{"x":459,"y":32.87},{"x":462,"y":32.91},{"x":465,"y":32.85},{"x":468,"y":32.88},{"x":471,"y":32.83},{"x":474,"y":32.86},{"x":477,"y":32.81},{"x":480,"y":32.84},{"x":483,"y":32.79},{"x":486,"y":32.82},{"x":489,"y":32.77},{"x":492,"y":32.81},{"x":495,"y":32.76},{"x":498,"y":32.8},{"x":501,"y":32.77},{"x":504,"y":32.8},{"x":507,"y":32.74},{"x":510,"y":32.78},{"x":513,"y":32.73},{"x":516,"y":32.77},{"x":519,"y":32.72},{"x":522,"y":32.76},{"x":525,"y":32.7},{"x":528,"y":32.72},{"x":531,"y":32.69},{"x":534,"y":32.75},{"x":537,"y":32.8},{"x":540,"y":32.86},{"x":543,"y":32.93},{"x":546,"y":32.96},{"x":549,"y":32.98},{"x":552,"y":32.94},{"x":555,"y":33.0},{"x":558,"y":33.02},{"x":561,"y":32.96},{"x":564,"y":32.99},{"x":567,"y":32.93},{"x":570,"y":32.96},{"x":573,"y":32.91},{"x":576,"y":32.95},{"x":579,"y":32.9},{"x":582,"y":32.93},{"x":585,"y":32.88},{"x":588,"y":32.94},{"x":591,"y":32.9},{"x":594,"y":32.93},{"x":597,"y":32.87},{"x":600,"y":32.9},{"x":603,"y":32.84},{"x":606,"y":32.82},{"x":609,"y":32.78},{"x":612,"y":32.82},{"x":615,"y":32.77},{"x":618,"y":32.84},{"x":621,"y":32.8},{"x":624,"y":32.85},{"x":627,"y":32.81},{"x":630,"y":32.83},{"x":633,"y":32.78},{"x":636,"y":32.81},{"x":639,"y":32.76},{"x":642,"y":32.79},{"x":645,"y":32.75},{"x":648,"y":32.74},{"x":651,"y":32.77},{"x":654,"y":32.73},{"x":657,"y":32.79},{"x":660,"y":32.83},{"x":663,"y":32.8},{"x":666,"y":32.78},{"x":669,"y":32.82},{"x":672,"y":32.79},{"x":675,"y":32.84},{"x":678,"y":32.8},{"x":681,"y":32.86},{"x":684,"y":32.83},{"x":687,"y":32.88},{"x":690,"y":32.89},{"x":693,"y":32.86},{"x":696,"y":32.92},{"x":699,"y":32.9},{"x":702,"y":32.95},{"x":705,"y":32.89},{"x":708,"y":32.85},{"x":711,"y":32.82},{"x":714,"y":32.86},{"x":717,"y":32.83},{"x":720,"y":32.89},{"x":723,"y":32.87},{"x":726,"y":32.82},{"x":729,"y":32.76},{"x":732,"y":32.74},{"x":735,"y":32.79},{"x":738,"y":32.83},{"x":741,"y":32.8},{"x":744,"y":32.84},{"x":747,"y":32.87},{"x":750,"y":32.84},{"x":753,"y":32.9},{"x":756,"y":32.91},{"x":759,"y":32.88},{"x":762,"y":32.93},{"x":765,"y":32.9},{"x":768,"y":32.95},{"x":771,"y":32.96},{"x":774,"y":32.92},{"x":777,"y":32.97},{"x":780,"y":32.94},{"x":783,"y":32.98},{"x":786,"y":32.95},{"x":789,"y":33.0},{"x":792,"y":32.97},{"x":795,"y":33.02},{"x":798,"y":33.05},{"x":801,"y":32.99},{"x":804,"y":32.97},{"x":807,"y":32.95},{"x":810,"y":32.9},{"x":813,"y":32.86},{"x":816,"y":32.84},{"x":819,"y":32.82},{"x":822,"y":32.8},{"x":825,"y":32.78},{"x":828,"y":32.76},{"x":831,"y":32.74},{"x":834,"y":32.76},{"x":837,"y":32.81},{"x":840,"y":32.85},{"x":843,"y":32.82},{"x":846,"y":32.87},{"x":849,"y":32.85},{"x":852,"y":32.9},{"x":855,"y":32.93},{"x":858,"y":32.96},{"x":861,"y":32.92},{"x":864,"y":32.95},{"x":867,"y":32.9},{"x":870,"y":32.94},{"x":873,"y":32.95},{"x":876,"y":32.91},{"x":879,"y":32.88},{"x":882,"y":32.9},{"x":885,"y":32.86},{"x":888,"y":32.87},{"x":891,"y":32.83},{"x":894,"y":32.86},{"x":897,"y":32.8},{"x":900,"y":32.78},{"x":903,"y":32.84},{"x":906,"y":32.89},{"x":909,"y":32.93},{"x":912,"y":32.96},{"x":915,"y":32.91},{"x":918,"y":32.88},{"x":921,"y":32.84},{"x":924,"y":32.86},{"x":927,"y":32.83},{"x":930,"y":32.88},{"x":933,"y":32.93},{"x":936,"y":32.97},{"x":939,"y":32.94},{"x":942,"y":32.98},{"x":945,"y":32.96},{"x":948,"y":33.0},{"x":951,"y":32.97},{"x":954,"y":33.0},{"x":957,"y":33.02},{"x":960,"y":33.0},{"x":963,"y":33.04},{"x":966,"y":33.02},{"x":969,"y":33.06},{"x":972,"y":33.04},{"x":975,"y":33.07},{"x":978,"y":33.08},{"x":981,"y":33.04},{"x":984,"y":33.05},{"x":987,"y":33.02},{"x":990,"y":33.0},{"x":993,"y":32.97},{"x":996,"y":32.98},{"x":999,"y":32.95},{"x":1002,"y":32.96},{"x":1005,"y":32.92},{"x":1008,"y":32.93},{"x":1011,"y":32.9},{"x":1014,"y":32.91},{"x":1017,"y":32.87},{"x":1020,"y":32.88},{"x":1023,"y":32.85},{"x":1026,"y":32.86},{"x":1029,"y":32.82},{"x":1032,"y":32.83},{"x":1035,"y":32.79},{"x":1038,"y":32.78},{"x":1041,"y":32.74},{"x":1044,"y":32.72},{"x":1047,"y":32.69},{"x":1050,"y":32.67},{"x":1053,"y":32.66},{"x":1056,"y":32.68},{"x":1059,"y":32.72},{"x":1062,"y":32.75},{"x":1065,"y":32.79},{"x":1068,"y":32.82},{"x":1071,"y":32.86},{"x":1074,"y":32.83},{"x":1077,"y":32.8},{"x":1080,"y":32.77},{"x":1083,"y":32.8},{"x":1086,"y":32.78},{"x":1089,"y":32.81},{"x":1092,"y":32.76},{"x":1095,"y":32.79},{"x":1098,"y":32.75},{"x":1100,"y":32.78}
],
"sse": [
{"a":12,"b":30},{"a":37,"b":66},{"a":77,"b":84},{"a":113,"b":138},{"a":149,"b":159},{"a":167,"b":170},{"a":177,"b":199},{"a":205,"b":213},{"a":220,"b":236},{"a":239,"b":256},{"a":264,"b":280},{"a":283,"b":292},{"a":300,"b":307},{"a":325,"b":332},{"a":339,"b":364},{"a":372,"b":380},{"a":383,"b":393},{"a":401,"b":408},{"a":415,"b":429},{"a":437,"b":452},{"a":455,"b":470},{"a":473,"b":500},{"a":503,"b":523},{"a":537,"b":548},{"a":555,"b":587},{"a":602,"b":613},{"a":620,"b":631},{"a":638,"b":649},{"a":656,"b":680},{"a":683,"b":700},{"a":703,"b":732},{"a":739,"b":746},{"a":757,"b":764},{"a":775,"b":783},{"a":787,"b":800},{"a":803,"b":818},{"a":825,"b":832},{"a":854,"b":876}
]
},
"concat": [
{
"width": 527, "height": 262,
"title": {"text": "A", "orient": "bottom", "offset": 7, "dx": 1},
"layer": [
{"data": {"values": [{}]}, "mark": {"type": "rect", "filled": false, "stroke": "#e9e9e9", "strokeWidth": 5}, "encoding": {"x": {"datum": -190.3, "type": "quantitative"}, "x2": {"datum": 1146.7}, "y": {"datum": -1.3844, "type": "quantitative"}, "y2": {"datum": 3.4504}}},
{"data": {"values": [{}]}, "mark": {"type": "rect", "filled": false, "stroke": "#3a3a3a", "strokeWidth": 1.8}, "encoding": {"x": {"datum": -200.8, "type": "quantitative"}, "x2": {"datum": 1157.2}, "y": {"datum": -1.4646, "type": "quantitative"}, "y2": {"datum": 3.5306}}},
{"data": {"values": [{}]}, "mark": {"type": "rect", "filled": false, "stroke": "#555555", "strokeWidth": 1}, "encoding": {"x": {"datum": -44, "type": "quantitative"}, "x2": {"datum": 1144}, "y": {"datum": -0.108, "type": "quantitative"}, "y2": {"datum": 2.82}}},
{"data": {"name": "rmsd"}, "mark": {"type": "line", "strokeWidth": 1.2}, "encoding": {
"x": {"field": "x", "type": "quantitative", "scale": {"domain": [-218, 1174.4], "nice": false, "zero": false}, "axis": {"title": "Time(ps)", "values": [0,200,400,600,800,1000], "format": "d", "offset": -74.5}},
"y": {"field": "y", "type": "quantitative", "scale": {"domain": [-1.595, 3.661], "nice": false, "zero": false}, "axis": {"title": "RMSD(Å)", "values": [0,0.5,1,1.5,2,2.5], "labelExpr": "datum.value % 1 === 0 ? format(datum.value, '.1f') : ''", "offset": -65.8}},
"color": {"field": "s", "type": "nominal", "scale": {"domain": ["Receptor", "Ligand"], "range": ["#000000", "#ff0000"]}, "legend": {"orient": "none", "legendX": 335.5, "legendY": 14, "direction": "horizontal", "title": null}}}}
]
},
{
"width": 526, "height": 262,
"title": {"text": "B", "orient": "bottom", "offset": 12, "dx": 2},
"layer": [
{"data": {"values": [{}]}, "mark": {"type": "rect", "filled": false, "stroke": "#e9e9e9", "strokeWidth": 5}, "encoding": {"x": {"datum": -165.9, "type": "quantitative"}, "x2": {"datum": 915.4}, "y": {"datum": -9.54, "type": "quantitative"}, "y2": {"datum": 24.27}}},
{"data": {"values": [{}]}, "mark": {"type": "rect", "filled": false, "stroke": "#3a3a3a", "strokeWidth": 1.8}, "encoding": {"x": {"datum": -174.5, "type": "quantitative"}, "x2": {"datum": 924.0}, "y": {"datum": -10.10, "type": "quantitative"}, "y2": {"datum": 24.83}}},
{"data": {"values": [{}]}, "mark": {"type": "rect", "filled": false, "stroke": "#555555", "strokeWidth": 1}, "encoding": {"x": {"datum": -34, "type": "quantitative"}, "x2": {"datum": 915}, "y": {"datum": -0.94, "type": "quantitative"}, "y2": {"datum": 20.0}}},
{"data": {"name": "sse"}, "mark": {"type": "rect", "color": "#111111"}, "encoding": {"x": {"field": "a", "type": "quantitative"}, "x2": {"field": "b"}, "y": {"datum": 19.45, "type": "quantitative"}, "y2": {"datum": 20.0}}},
{"data": {"name": "sse"}, "mark": {"type": "rect", "color": "#111111"}, "encoding": {"x": {"field": "a", "type": "quantitative"}, "x2": {"field": "b"}, "y": {"datum": -0.15, "type": "quantitative"}, "y2": {"datum": -0.6}}},
{"data": {"name": "rmsf"}, "mark": {"type": "line", "strokeWidth": 2.5, "color": "#000000"}, "encoding": {
"x": {"field": "x", "type": "quantitative", "scale": {"domain": [-188.4, 937.9], "nice": false, "zero": false}, "axis": {"title": "Residue Position", "values": [1,200,400,600,800], "format": "d", "offset": -71.8}},
"y": {"field": "y", "type": "quantitative", "scale": {"domain": [-11.01, 25.74], "nice": false, "zero": false}, "axis": {"title": "RMSF(Å)", "values": [0,5,10,15,20], "labelExpr": "datum.value === 15 ? '' : format(datum.value, 'd')", "offset": -72.1}}}}
]
},
{
"width": 527, "height": 260.5,
"title": {"text": "C", "orient": "bottom", "offset": 2, "dx": 3.5},
"layer": [
{"data": {"values": [{}]}, "mark": {"type": "rect", "filled": false, "stroke": "#e9e9e9", "strokeWidth": 5}, "encoding": {"x": {"datum": -168.9, "type": "quantitative"}, "x2": {"datum": 913.3}, "y": {"datum": -5296, "type": "quantitative"}, "y2": {"datum": 12903}}},
{"data": {"values": [{}]}, "mark": {"type": "rect", "filled": false, "stroke": "#3a3a3a", "strokeWidth": 1.8}, "encoding": {"x": {"datum": -177.5, "type": "quantitative"}, "x2": {"datum": 921.9}, "y": {"datum": -5600, "type": "quantitative"}, "y2": {"datum": 13207}}},
{"data": {"values": [{}]}, "mark": {"type": "rect", "filled": false, "stroke": "#555555", "strokeWidth": 1}, "encoding": {"x": {"datum": -32, "type": "quantitative"}, "x2": {"datum": 908}, "y": {"datum": -456, "type": "quantitative"}, "y2": {"datum": 10433}}},
{"data": {"name": "sse"}, "mark": {"type": "rect", "color": "#111111"}, "encoding": {"x": {"field": "a", "type": "quantitative"}, "x2": {"field": "b"}, "y": {"datum": 10050, "type": "quantitative"}, "y2": {"datum": 10400}}},
{"data": {"name": "sse"}, "mark": {"type": "rect", "color": "#111111"}, "encoding": {"x": {"field": "a", "type": "quantitative"}, "x2": {"field": "b"}, "y": {"datum": -80, "type": "quantitative"}, "y2": {"datum": -420}}},
{"data": {"name": "bfac"}, "mark": {"type": "line", "strokeWidth": 2.5, "color": "#000000"}, "encoding": {
"x": {"field": "x", "type": "quantitative", "scale": {"domain": [-191.4, 935.8], "nice": false, "zero": false}, "axis": {"title": "Residue Position", "values": [1,200,400,600,800], "format": "d", "offset": -74.2}},
"y": {"field": "y", "type": "quantitative", "scale": {"domain": [-6094, 13701], "nice": false, "zero": false}, "axis": {"title": "B-Factors", "values": [0,2000,4000,6000,8000,10000], "labelExpr": "(datum.value === 0 || datum.value === 4000 || datum.value === 10000) ? format(datum.value, 'd') : ''", "offset": -74.5}}}}
]
},
{
"width": 526, "height": 260.5,
"title": {"text": "D", "orient": "bottom", "offset": 2, "dx": 11},
"layer": [
{"data": {"values": [{}]}, "mark": {"type": "rect", "filled": false, "stroke": "#e9e9e9", "strokeWidth": 5}, "encoding": {"x": {"datum": -192.9, "type": "quantitative"}, "x2": {"datum": 1153.0}, "y": {"datum": 31.8829, "type": "quantitative"}, "y2": {"datum": 33.2247}}},
{"data": {"values": [{}]}, "mark": {"type": "rect", "filled": false, "stroke": "#3a3a3a", "strokeWidth": 1.8}, "encoding": {"x": {"datum": -203.6, "type": "quantitative"}, "x2": {"datum": 1163.7}, "y": {"datum": 31.8605, "type": "quantitative"}, "y2": {"datum": 33.2471}}},
{"data": {"values": [{}]}, "mark": {"type": "rect", "filled": false, "stroke": "#555555", "strokeWidth": 1}, "encoding": {"x": {"datum": -44, "type": "quantitative"}, "x2": {"datum": 1122}, "y": {"datum": 32.254, "type": "quantitative"}, "y2": {"datum": 33.123}}},
{"data": {"name": "rg"}, "mark": {"type": "line", "strokeWidth": 1.6, "color": "#000000"}, "encoding": {
"x": {"field": "x", "type": "quantitative", "scale": {"domain": [-220.9, 1181], "nice": false, "zero": false}, "axis": {"title": "Time(ps)", "values": [0,200,400,600,800,1000], "format": "d", "offset": -76.7}},
"y": {"field": "y", "type": "quantitative", "scale": {"domain": [31.8241, 33.2835], "nice": false, "zero": false}, "axis": {"title": "Radius of Gyration", "values": [32.4,32.6,32.8,33.0], "labelExpr": "(datum.value === 32.4 || datum.value === 32.8) ? format(datum.value, '.1f') : ''", "offset": -66.4}}}}
]
}
],
"config": {
"view": {"stroke": "#000000", "strokeWidth": 8, "fill": "#ffffff"},
"axis": {"domain": false, "grid": false, "tickColor": "#555555", "tickSize": 6, "tickWidth": 1, "labelFont": "Liberation Sans", "labelFontSize": 16, "labelColor": "#2a2a2a", "labelOverlap": false, "labelFlush": false, "titleFont": "Liberation Sans", "titleFontSize": 16, "titleFontWeight": "normal", "titleColor": "#2a2a2a"},
"axisX": {"labelPadding": 8, "titlePadding": 13},
"axisY": {"labelAngle": -90, "labelAlign": "center", "labelBaseline": "bottom", "labelPadding": 7, "titlePadding": 9},
"legend": {"labelFont": "Liberation Sans", "labelFontSize": 12, "labelColor": "#222222", "symbolType": "stroke", "symbolStrokeWidth": 1.5, "symbolSize": 441, "labelOffset": 9, "columnPadding": 12, "padding": 0},
"title": {"font": "Open Sans", "fontSize": 30, "fontWeight": "bold", "color": "#161616", "anchor": "middle", "baseline": "top"},
"line": {"strokeJoin": "round"}
}
}
